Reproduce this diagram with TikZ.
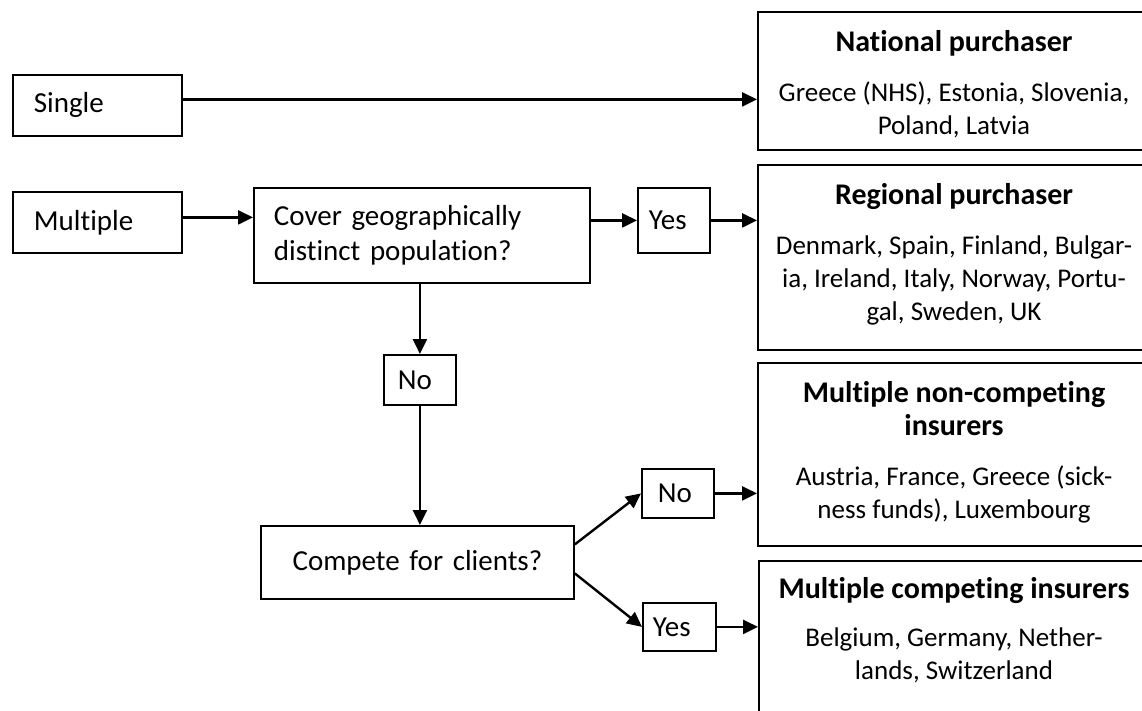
\documentclass[tikz,border=0pt]{standalone}
\usepackage{fontspec}
\setmainfont{Carlito}[Ligatures=CommonOff]
\usetikzlibrary{arrows.meta}
\begin{document}
\begin{tikzpicture}[x=1pt, y=-1pt,
  box/.style={draw, line width=1.8pt, anchor=north west, inner ysep=0pt,
    font=\fontsize{29}{35}\selectfont},
  panel/.style={draw, line width=2pt, anchor=north west, inner sep=0pt},
  head/.style={font=\bfseries\fontsize{30}{33}\selectfont, align=center, anchor=base},
  body/.style={font=\fontsize{27}{33}\selectfont, align=center, anchor=base},
  arr/.style={line width=2.4pt, -{Triangle[length=15pt,width=14pt]}}]

\useasboundingbox (0,0) rectangle (1142,711);
\clip (0,0) rectangle (1142,711);

% decision boxes on the left
\node[box, minimum width=169pt, minimum height=61pt, text width=127pt, inner xsep=21pt, align=left]
  (single) at (12,74) {Single};
\node[box, minimum width=169pt, minimum height=61pt, text width=127pt, inner xsep=21pt, align=left]
  (multiple) at (12,191) {Multiple};
\node[box, minimum width=336pt, minimum height=95pt, text width=296pt, inner xsep=20pt, align=left]
  (cover) at (253,187) {Cover geographically\\distinct population?};
\node[box, minimum width=72pt, minimum height=65pt, text width=50pt, inner xsep=11pt, align=left]
  (yes1) at (637,187) {Yes};
\node[box, minimum width=72pt, minimum height=50pt, text width=44pt, inner xsep=14pt, align=left]
  (no1) at (383,354) {No};
\node[box, minimum width=313pt, minimum height=73pt, text width=293pt, inner xsep=10pt, align=center]
  (compete) at (260,525) {Compete for clients?};
\node[box, minimum width=72pt, minimum height=49pt, text width=40pt, inner xsep=16pt, align=left]
  (no2) at (641,468) {No};
\node[box, minimum width=73pt, minimum height=48pt, text width=53pt, inner xsep=10pt, align=left]
  (yes2) at (642,602) {Yes};

% outcome panels on the right (base anchor = baseline of the last line)
\node[panel, minimum width=398pt, minimum height=138pt] (national) at (757,11) {};
\node[head] (nationalT) at (954,52) {National purchaser};
\node[body] (nationalB) at (954,135) {Greece (NHS), Estonia, Slovenia,\\Poland, Latvia};

\node[panel, minimum width=398pt, minimum height=185pt] (regional) at (757,164) {};
\node[head] (regionalT) at (954,205) {Regional purchaser};
\node[body] (regionalB) at (954,320) {Denmark, Spain, Finland, Bulgar-\\ia, Ireland, Italy, Norway, Portu-\\gal, Sweden, UK};

\node[panel, minimum width=398pt, minimum height=183pt] (noncomp) at (757,362) {};
\node[head] (noncompT) at (954,435) {Multiple non-competing\\insurers};
\node[body] (noncompB) at (954,518) {Austria, France, Greece (sick-\\ness funds), Luxembourg};

\node[panel, minimum width=398pt, minimum height=170pt] (comp) at (758,560) {};
\node[head] (compT) at (954,598) {Multiple competing insurers};
\node[body] (compB) at (954,679) {Belgium, Germany, Nether-\\lands, Switzerland};

% connectors
\draw[arr] ([yshift=6pt]single.east) -- ([yshift=6pt]single.east -| national.west);
\draw[arr] ([yshift=5pt]multiple.east) -- ([yshift=5pt]multiple.east -| cover.west);
\draw[arr] (cover.east |- yes1.west) -- (yes1.west);
\draw[arr] (yes1.east) -- (yes1.east -| regional.west);
\draw[arr] (cover.south -| no1.north) -- (no1.north);
\draw[arr] (no1.south) -- (no1.south |- compete.north);
\draw[arr] ([yshift=18pt]compete.east) -- (no2.west);
\draw[arr] ([yshift=-11pt]compete.east) -- (yes2.west);
\draw[arr] (no2.east) -- (no2.east -| noncomp.west);
\draw[arr] (yes2.east) -- (yes2.east -| comp.west);
\end{tikzpicture}
\end{document}
